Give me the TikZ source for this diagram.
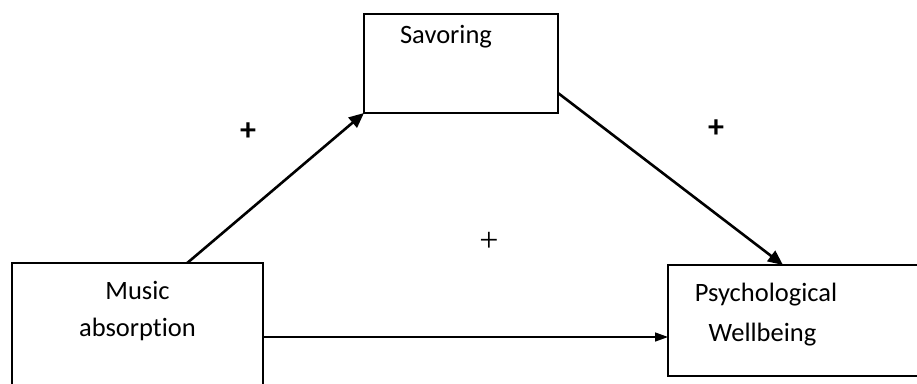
\documentclass[tikz,border=0pt]{standalone}
\usepackage{fontspec}
\setmainfont[Ligatures={NoCommon}]{Carlito}
\newfontfamily\plusserif{Liberation Serif}
\usetikzlibrary{arrows.meta,calc}
\tikzset{
  box/.style={draw, line width=1.8pt, inner sep=0pt, outer sep=0pt, rectangle},
  lbl/.style={anchor=base, inner sep=0pt, font=\fontsize{26.5}{30}\selectfont},
  sign/.style={inner sep=0pt},
  thickarrow/.style={line width=2.6pt, -{Triangle[length=15pt,width=13pt]}},
  thinarrow/.style={line width=1.4pt, -{Triangle[length=13pt,width=9pt]}}
}
\begin{document}
\begin{tikzpicture}[x=1pt,y=-1pt]
\useasboundingbox (0,0) rectangle (917,383);
\clip (0,0) rectangle (917,383);
\fill[white] (0,0) rectangle (917,383);
% boxes
\node[box, minimum width=194pt, minimum height=99pt] (sav) at (461,63.5) {};
\node[box, minimum width=251pt, minimum height=140pt] (mus) at (137.5,333) {};
\node[box, minimum width=262pt, minimum height=111pt] (psy) at (799,320.5) {};
% texts
\node[lbl] (tsav) at (446,43) {Savoring};
\node[lbl] (tmus1) at (137.5,299) {Music};
\node[lbl] (tmus2) at (137.5,336) {absorption};
\node[lbl] (tpsy1) at (766,301) {Psychological};
\node[lbl] (tpsy2) at (762.5,341) {Wellbeing};
% signs
\node[sign, font=\fontsize{32}{36}\selectfont\bfseries] (p1) at (248,132) {+};
\node[sign, font=\fontsize{32}{36}\selectfont\bfseries] (p2) at (716,129) {+};
\node[sign, font=\fontsize{34}{38}\selectfont\plusserif] (p3) at (489,242) {+};
% connectors
\coordinate (musout) at ($(mus.north west)!0.698!(mus.north east)$);
\coordinate (savout) at ($(sav.east)+(0,29.5)$);
\coordinate (psyin) at ($(psy.north west)+(115,0)$);
\coordinate (musright) at ($(mus.north east)+(0,74)$);
\draw[thickarrow] (musout) -- (sav.south west);
\draw[thickarrow] (savout) -- (psyin);
\draw[thinarrow] (musright) -- (musright -| psy.west);
\end{tikzpicture}
\end{document}
